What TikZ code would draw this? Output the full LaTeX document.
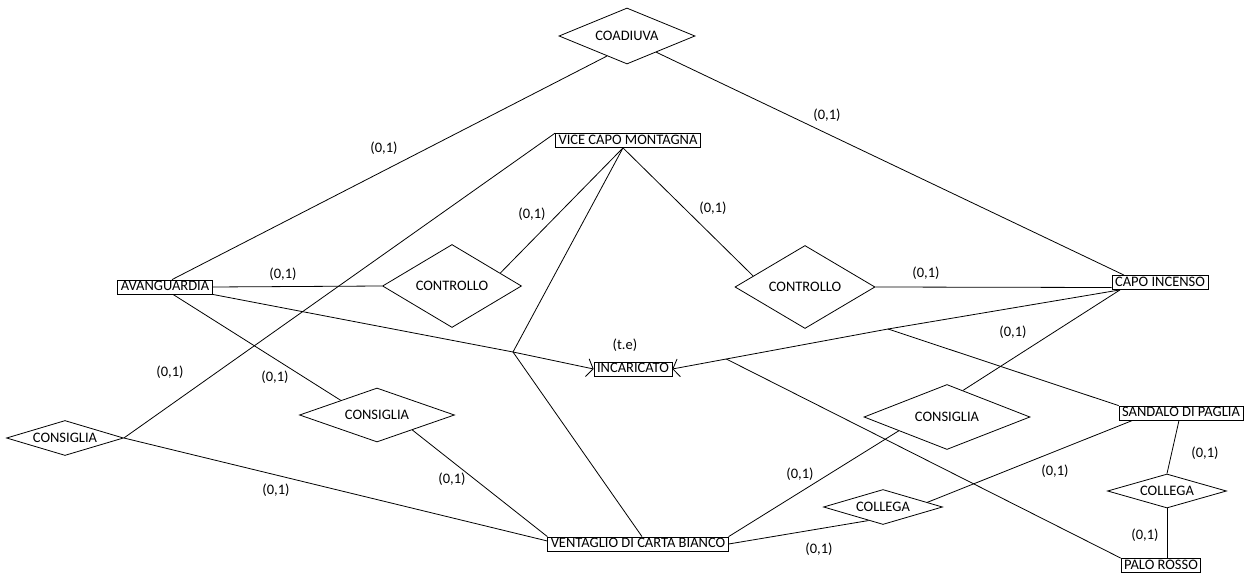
\documentclass[tikz,border=0pt]{standalone}
\usepackage{fontspec}
\setmainfont{Carlito}
\usetikzlibrary{shapes.geometric,arrows.meta,calc}
\newcommand{\erfont}{\fontsize{14.5}{17}\selectfont}

\begin{document}
\begin{tikzpicture}[x=1pt,y=-1pt,line width=0.8pt,
  ent/.style={draw,inner xsep=3pt,inner ysep=1.25pt,text height=9.5pt,text depth=2pt,font=\erfont},
  rel/.style={draw,diamond,inner sep=0pt,font=\erfont},
  card/.style={inner sep=0pt,font=\erfont},
  isa/.style={-{Straight Barb[length=6pt,width=18pt]}}]
\useasboundingbox (0,0) rectangle (1254,580);
\node[ent] (vcm) at (628,140.5) {VICE CAPO MONTAGNA};
\node[ent] (avan) at (165,287) {AVANGUARDIA};
\node[ent] (capo) at (1160,282.5) {CAPO INCENSO};
\node[ent] (inca) at (633,369) {INCARICATO};
\node[ent] (sand) at (1181,413) {SANDALO DI PAGLIA};
\node[ent] (vent) at (638,544) {VENTAGLIO DI CARTA BIANCO};
\node[ent] (palo) at (1161,565.5) {PALO ROSSO};
\node[rel,minimum width=136pt,minimum height=56pt,aspect=2.4] (coad) at (627,36) {COADIUVA};
\node[rel,minimum width=139pt,minimum height=83pt,aspect=1.7] (ctrlL) at (452,286) {CONTROLLO};
\node[rel,minimum width=140pt,minimum height=83pt,aspect=1.7] (ctrlR) at (805,287) {CONTROLLO};
\node[rel,minimum width=117pt,minimum height=35pt,aspect=3.3] (consL) at (65,438) {CONSIGLIA};
\node[rel,minimum width=155pt,minimum height=54pt,aspect=2.9] (consM) at (377,415) {CONSIGLIA};
\node[rel,minimum width=166pt,minimum height=65pt,aspect=2.5] (consR) at (947,417) {CONSIGLIA};
\node[rel,minimum width=119pt,minimum height=35pt,aspect=3.4] (collB) at (883,507) {COLLEGA};
\node[rel,minimum width=119pt,minimum height=34pt,aspect=3.5] (collR) at (1167,491) {COLLEGA};
\coordinate (jl) at (513,352);
\coordinate (jr) at (888,329);
\coordinate (jp) at ($(inca.east)!0.25!(jr)$);
\draw (coad.225) -- ([xshift=7pt]avan.north);
\draw (coad.-29) -- ([xshift=-36pt]capo.north);
\draw (vcm.north west) -- (consL.east);
\draw ([xshift=-5pt]vcm.south) -- (ctrlL.15);
\draw ([xshift=-5pt]vcm.south) -- (ctrlR.168);
\draw ([xshift=-5pt]vcm.south) -- (jl) -- ([xshift=4pt]vent.north);
\draw[isa] (avan.south east) -- (jl) -- (inca.west);
\draw (avan.east) -- (ctrlL.west);
\draw (ctrlR.east) -- ([yshift=-5pt]capo.west);
\draw[isa] ([xshift=-40pt]capo.south) -- (jr) -- (inca.east);
\draw (jr) -- (sand.north west);
\draw ([xshift=-40pt]capo.south) -- (consR.59);
\draw ([xshift=8pt]avan.south) -- (consM.158);
\draw (consM.-23) -- (vent.north west);
\draw (consL.east) -- ([yshift=3pt]vent.west);
\draw (jp) -- (palo.north west);
\draw (consR.196) -- (vent.north east);
\draw (collB.6) -- ([xshift=14pt]sand.south west);
\draw (vent.east) -- (collB.223);
\draw ([xshift=-2pt]sand.south) -- (collR.north);
\draw (collR.south) -- (collR.south |- palo.north);
\node[card] (te) at (625,345) {(t.e)};
\node[card] (c1) at (384,148) {(0,1)};
\node[card] (c2) at (827,115) {(0,1)};
\node[card] (c3) at (532,214) {(0,1)};
\node[card] (c4) at (713,208) {(0,1)};
\node[card] (c5) at (283,274) {(0,1)};
\node[card] (c6) at (926,273) {(0,1)};
\node[card] (c7) at (1013,332) {(0,1)};
\node[card] (c8) at (170,372) {(0,1)};
\node[card] (c9) at (275,377) {(0,1)};
\node[card] (c10) at (452,479) {(0,1)};
\node[card] (c11) at (276,490) {(0,1)};
\node[card] (c12) at (800,474) {(0,1)};
\node[card] (c13) at (819,549) {(0,1)};
\node[card] (c14) at (1055,471) {(0,1)};
\node[card] (c15) at (1205,453) {(0,1)};
\node[card] (c16) at (1145,535) {(0,1)};
\end{tikzpicture}
\end{document}
